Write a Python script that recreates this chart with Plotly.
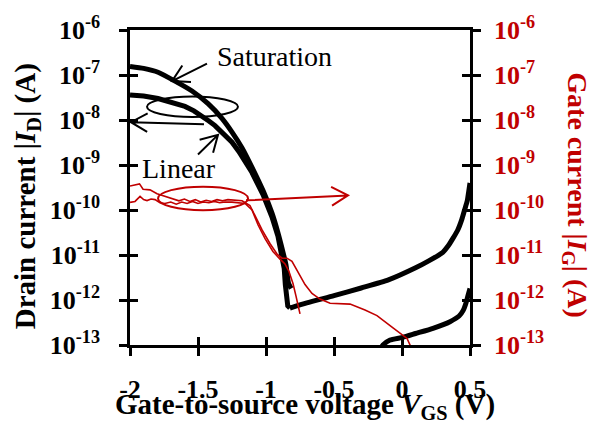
import math
import plotly.graph_objects as go

# ---- data: gate-to-source voltage (V) and currents (A) ----
# drain current, saturation sweep
v_sat = [-2.000, -1.900, -1.794, -1.669, -1.544, -1.426, -1.324, -1.250, -1.176, -1.103,
         -1.022, -0.956, -0.912, -0.875, -0.853, -0.835, -0.815]
id_sat = [1.55e-7, 1.4e-7, 1.15e-7, 7.3e-8, 4.4e-8, 2.3e-8, 1.09e-8, 5.4e-9, 2.4e-9, 8.9e-10,
          2.7e-10, 8.5e-11, 3.1e-11, 1.15e-11, 6e-12, 2.4e-12, 1.8e-12]

# drain current, linear sweep (down to the minimum)
v_lin = [-2.000, -1.900, -1.794, -1.700, -1.596, -1.530, -1.471, -1.420, -1.375, -1.301,
         -1.250, -1.200, -1.150, -1.103, -1.022, -0.956, -0.912, -0.880, -0.866, -0.858,
         -0.852, -0.840, -0.824]
id_lin = [3.6e-8, 3.4e-8, 3.0e-8, 2.5e-8, 2.0e-8, 1.6e-8, 1.25e-8, 9.5e-9, 7.5e-9, 4.6e-9,
          3.2e-9, 2.0e-9, 1.2e-9, 6.8e-10, 2.2e-10, 7.0e-11, 2.6e-11, 1.0e-11, 5.0e-12, 2.2e-12,
          1.1e-12, 7.4e-13, 6.6e-13]

# drain current, rising branch towards positive bias
v_rise = [-0.824, -0.700, -0.500, -0.300, -0.100, 0.100, 0.200, 0.300, 0.340, 0.380,
          0.410, 0.440, 0.460, 0.480, 0.490, 0.500]
id_rise = [6.6e-13, 8.6e-13, 1.25e-12, 1.85e-12, 2.8e-12, 5.2e-12, 7.5e-12, 1.15e-11,
           1.6e-11, 2.5e-11, 3.6e-11, 6.2e-11, 1.0e-10, 1.6e-10, 2.5e-10, 4.0e-10]

# drain current, low-level branch near zero bias
v_low = [-0.160, -0.140, -0.088, 0.007, 0.100, 0.228, 0.353, 0.420, 0.449, 0.470, 0.485, 0.500]
id_low = [8e-14, 1.0e-13, 1.29e-13, 1.48e-13, 1.8e-13, 2.35e-13, 3.3e-13, 4.4e-13,
          5.8e-13, 8.5e-13, 1.25e-12, 1.8e-12]

# gate current, two sweeps
v_ga = [-2.000, -1.963, -1.930, -1.904, -1.853, -1.801, -1.743, -1.690, -1.640, -1.600,
        -1.560, -1.520, -1.480, -1.440, -1.400, -1.360, -1.320, -1.280, -1.230, -1.176,
        -1.118, -1.074, -1.029, -0.971, -0.919, -0.882, -0.846, -0.809, -0.765, -0.713,
        -0.662, -0.603, -0.529, -0.382, -0.272, -0.184, -0.066, -0.015, 0.007, 0.037, 0.066]
ig_a = [3.4e-10, 3.6e-10, 3.8e-10, 2.9e-10, 2.8e-10, 2.3e-10, 2.0e-10, 1.75e-10, 1.6e-10,
        1.75e-10, 1.55e-10, 1.7e-10, 1.5e-10, 1.65e-10, 1.55e-10, 1.7e-10, 1.6e-10, 1.7e-10,
        1.65e-10, 1.6e-10, 1.26e-10, 6.9e-11, 3.6e-11, 1.8e-11, 1.05e-11, 8.5e-12, 8.5e-12,
        7.2e-12, 4.2e-12, 2.2e-12, 1.4e-12, 1.05e-12, 8.5e-13, 8.1e-13, 6.0e-13, 4.5e-13,
        2.4e-13, 1.8e-13, 1.6e-13, 1.4e-13, 9e-14]

v_gb = [-2.000, -1.963, -1.926, -1.900, -1.875, -1.845, -1.816, -1.780, -1.743, -1.700,
        -1.660, -1.620, -1.580, -1.540, -1.500, -1.460, -1.420, -1.380, -1.340, -1.300,
        -1.250, -1.200, -1.154, -1.103, -1.059, -1.007, -0.949, -0.897, -0.860, -0.831,
        -0.801, -0.779, -0.750]
ig_b = [1.48e-10, 1.55e-10, 2.0e-10, 1.7e-10, 1.62e-10, 1.75e-10, 1.7e-10, 1.45e-10,
        1.4e-10, 1.5e-10, 1.35e-10, 1.5e-10, 1.4e-10, 1.55e-10, 1.4e-10, 1.5e-10, 1.45e-10,
        1.55e-10, 1.45e-10, 1.5e-10, 1.5e-10, 1.45e-10, 1.4e-10, 1.0e-10, 4.7e-11, 2.3e-11,
        1.2e-11, 8.1e-12, 6.3e-12, 4.3e-12, 2.3e-12, 1.2e-12, 4.9e-13]

# ---- axes ----
x_ticks = [-2, -1.5, -1, -0.5, 0, 0.5]
x_ticktext = ["-2", "-1.5", "-1", "-0.5", "0", "0.5"]
exponents = [-13, -12, -11, -10, -9, -8, -7, -6]
y_ticks = [10.0 ** e for e in exponents]
y_ticktext = [f"10<sup>{e}</sup>" for e in exponents]

X_RANGE = [-2, 0.5]
LOG_RANGE = [-13, -6]

BLACK = "#000000"
RED = "#c00000"
SERIF = "Liberation Serif"

# plot-area geometry (pixels)
W, H = 592, 428
M_L, M_R, M_T, M_B = 130, 122, 23, 83
PW, PH = W - M_L - M_R, H - M_T - M_B


def to_paper(v, logi):
    return ((v - X_RANGE[0]) / (X_RANGE[1] - X_RANGE[0]),
            (logi - LOG_RANGE[0]) / (LOG_RANGE[1] - LOG_RANGE[0]))


def arrow_path(tail, tip, head_len=19, half_angle=30):
    """Open V-headed arrow in paper coordinates; tail/tip given as (V, log10 I)."""
    tx, ty = to_paper(*tail)
    hx, hy = to_paper(*tip)
    # work in pixels so the head keeps its shape
    dx, dy = (tx - hx) * PW, (ty - hy) * PH
    n = math.hypot(dx, dy)
    ux, uy = dx / n, dy / n
    pts = []
    for s in (1, -1):
        a = math.radians(half_angle) * s
        bx = ux * math.cos(a) - uy * math.sin(a)
        by = ux * math.sin(a) + uy * math.cos(a)
        pts.append((hx + bx * head_len / PW, hy + by * head_len / PH))
    return (f"M{tx},{ty} L{hx},{hy} M{pts[0][0]},{pts[0][1]} L{hx},{hy} "
            f"L{pts[1][0]},{pts[1][1]}")


fig = go.Figure()

fig.add_trace(go.Scatter(x=v_ga, y=ig_a, mode="lines", yaxis="y2",
                         line=dict(color=RED, width=1.6)))
fig.add_trace(go.Scatter(x=v_gb, y=ig_b, mode="lines", yaxis="y2",
                         line=dict(color=RED, width=1.6)))
fig.add_trace(go.Scatter(x=v_sat, y=id_sat, mode="lines",
                         line=dict(color=BLACK, width=5, shape="spline", smoothing=0.5)))
fig.add_trace(go.Scatter(x=v_lin, y=id_lin, mode="lines",
                         line=dict(color=BLACK, width=5)))
fig.add_trace(go.Scatter(x=v_rise, y=id_rise, mode="lines",
                         line=dict(color=BLACK, width=5, shape="spline", smoothing=0.6)))
fig.add_trace(go.Scatter(x=v_low, y=id_low, mode="lines",
                         line=dict(color=BLACK, width=5, shape="spline", smoothing=0.5)))
# empty traces that host the inward tick marks
fig.add_trace(go.Scatter(x=[], y=[], yaxis="y3", xaxis="x2"))
fig.add_trace(go.Scatter(x=[], y=[], yaxis="y4", xaxis="x2"))

tick_font = dict(family=SERIF, size=26, color=BLACK, weight="bold")
axis_common = dict(showgrid=False, zeroline=False, linewidth=2.5, linecolor=BLACK,
                   tickwidth=2.5, tickcolor=BLACK, ticklen=8)

fig.update_layout(
    width=W, height=H,
    margin=dict(l=M_L, r=M_R, t=M_T, b=M_B),
    paper_bgcolor="white", plot_bgcolor="white",
    showlegend=False,
    xaxis=dict(range=X_RANGE, tickvals=x_ticks, ticktext=x_ticktext, ticks="outside",
               showline=True, mirror=True, tickfont=tick_font, ticklabelstandoff=11,
               **axis_common),
    xaxis2=dict(range=X_RANGE, overlaying="x", side="bottom", anchor="y", tickvals=x_ticks,
                ticks="inside", showticklabels=False, showline=False, **axis_common),
    yaxis=dict(type="log", range=LOG_RANGE, tickvals=y_ticks, ticktext=y_ticktext,
               ticks="outside", showline=True, tickfont=tick_font, ticklabelstandoff=14,
               **axis_common),
    yaxis2=dict(type="log", range=LOG_RANGE, tickvals=y_ticks, ticktext=y_ticktext,
                overlaying="y", side="right", anchor="x", ticks="outside", showline=True,
                tickfont=dict(tick_font, color=RED), ticklabelstandoff=8, **axis_common),
    yaxis3=dict(type="log", range=LOG_RANGE, tickvals=y_ticks, overlaying="y", side="left",
                anchor="x2", ticks="inside", showticklabels=False, showline=False,
                **axis_common),
    yaxis4=dict(type="log", range=LOG_RANGE, tickvals=y_ticks, overlaying="y", side="right",
                anchor="x2", ticks="inside", showticklabels=False, showline=False,
                **axis_common),
)

title_font = dict(family=SERIF, size=29, color=BLACK, weight="bold")
fig.add_annotation(text="Gate-to-source voltage <i>V</i><sub>GS</sub> (V)",
                   xref="paper", yref="paper", x=(305 - M_L) / PW, y=-(407 - M_T - PH) / PH,
                   showarrow=False, font=title_font, xanchor="center", yanchor="middle")
fig.add_annotation(text="Drain current |<i>I</i><sub>D</sub>| (A)", textangle=-90,
                   xref="paper", yref="paper", x=(27 - M_L) / PW, y=(H - M_B - 193) / PH,
                   showarrow=False, font=title_font, xanchor="center", yanchor="middle")
fig.add_annotation(text="Gate current |<i>I</i><sub>G</sub>| (A)", textangle=90,
                   xref="paper", yref="paper", x=(576 - M_L) / PW, y=(H - M_B - 192) / PH,
                   showarrow=False, font=dict(title_font, color=RED, size=28),
                   xanchor="center", yanchor="middle")

# curve labels
label_font = dict(family=SERIF, size=28, color=BLACK)
sx, sy = to_paper(-1.375, -6.58)
fig.add_annotation(text="Saturation", xref="paper", yref="paper", x=sx, y=sy,
                   showarrow=False, font=label_font, xanchor="left", yanchor="middle")
lx, ly = to_paper(-1.93, -9.08)
fig.add_annotation(text="Linear", xref="paper", yref="paper", x=lx, y=ly,
                   showarrow=False, font=label_font, xanchor="left", yanchor="middle")

# ellipses grouping the curves
for (v0, v1, l0, l1), col in [((-1.875, -1.206, -7.933, -7.477), BLACK),
                               ((-1.794, -1.132, -10.003, -9.482), RED)]:
    x0, y0 = to_paper(v0, l0)
    x1, y1 = to_paper(v1, l1)
    fig.add_shape(type="circle", xref="paper", yref="paper", x0=x0, x1=x1, y0=y0, y1=y1,
                  line=dict(color=col, width=2))

# arrows (tail, tip) in (V, log10 I)
arrows = [
    ((-1.434, -6.745), (-1.691, -7.136), BLACK),
    ((-1.456, -8.092), (-1.993, -8.049), BLACK),
    ((-1.500, -8.765), (-1.353, -8.330), BLACK),
    ((-1.147, -9.786), (-0.397, -9.677), RED),
]
for tail, tip, col in arrows:
    fig.add_shape(type="path", xref="paper", yref="paper", path=arrow_path(tail, tip),
                  line=dict(color=col, width=2))

fig.write_html("out.html")
